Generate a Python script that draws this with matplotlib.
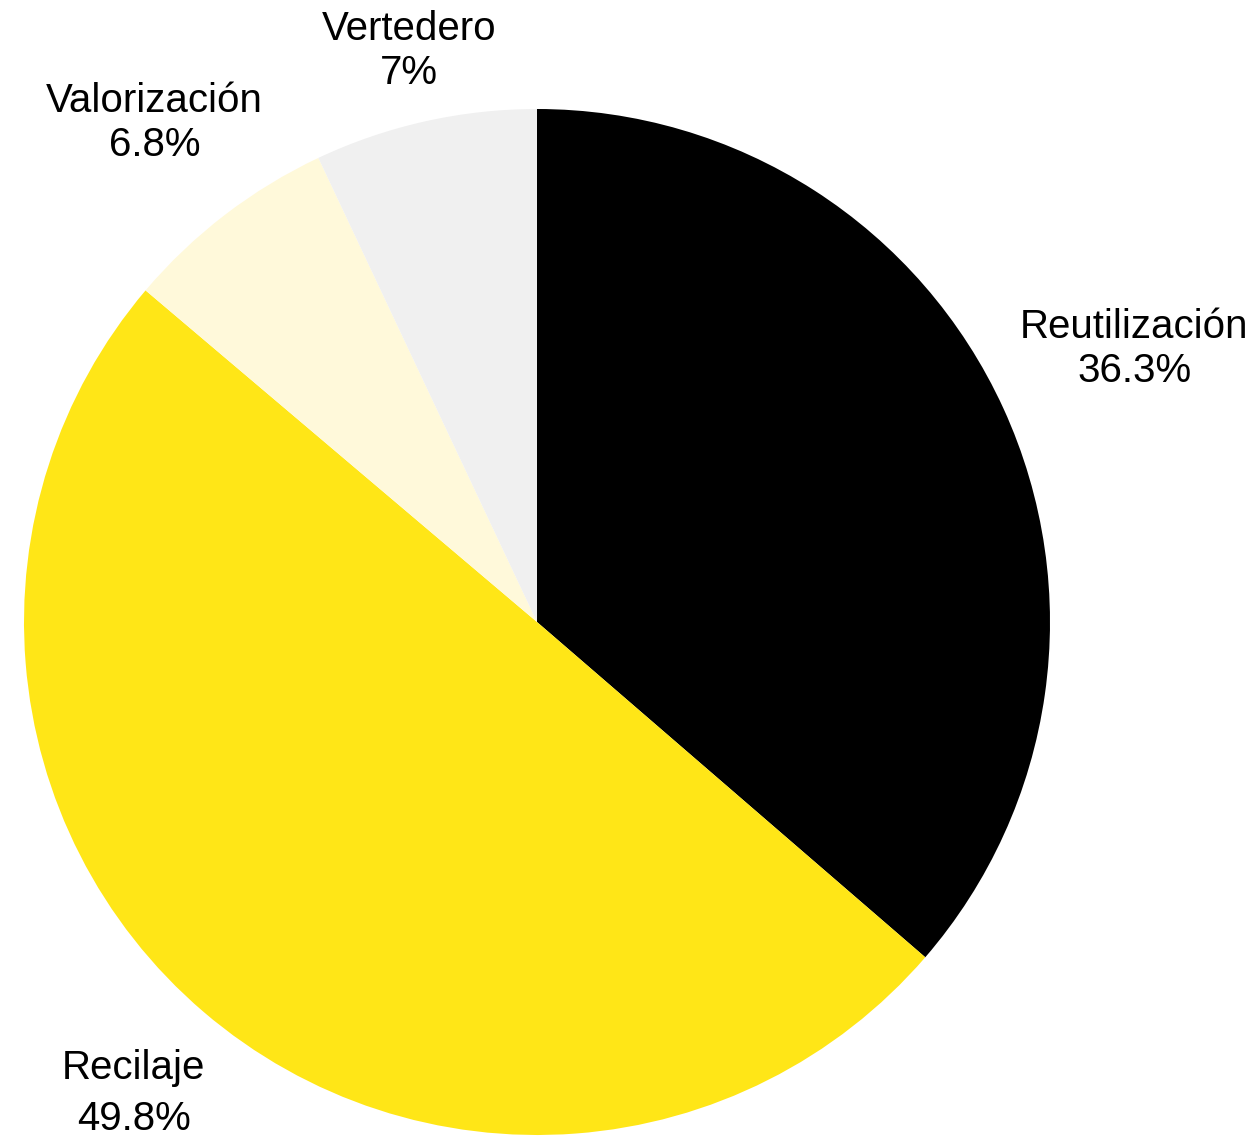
import matplotlib.pyplot as plt
import numpy as np

plt.rcParams['font.family'] = ['Liberation Sans', 'DejaVu Sans']

# Destino de los residuos (%)
categorias = ['Reutilización', 'Recilaje', 'Valorización', 'Vertedero']
valores = [36.3, 49.8, 6.8, 7]
etiquetas = ['36.3%', '49.8%', '6.8%', '7%']
colores = ['#000000', '#FFE617', '#FFF9DA', '#F0F0F0']

# distancia de cada etiqueta al centro (en radios) y su interlineado
dist_etiqueta = [1.28, 1.21, 1.225, 1.14]
interlineado = [1.2, 1.45, 1.2, 1.2]

W, H = 1257, 1140
fig = plt.figure(figsize=(W / 100, H / 100), dpi=100)
ax = fig.add_axes([0, 0, 1, 1])

centro = (537, H - 622)
radio = 513

wedges, _ = ax.pie(valores, colors=colores, startangle=90, counterclock=False,
                   center=centro, radius=radio, frame=True)
ax.set_xlim(0, W)
ax.set_ylim(0, H)
ax.set_aspect('equal')
ax.axis('off')

for w, cat, et, d, ls in zip(wedges, categorias, etiquetas, dist_etiqueta, interlineado):
    ang = np.deg2rad((w.theta1 + w.theta2) / 2)
    x = centro[0] + d * radio * np.cos(ang)
    y = centro[1] + d * radio * np.sin(ang)
    ax.text(x, y, cat + '\n' + et, ha='center', va='center', fontsize=29,
            linespacing=ls, color='black')

fig.savefig('out.png', dpi=100)
